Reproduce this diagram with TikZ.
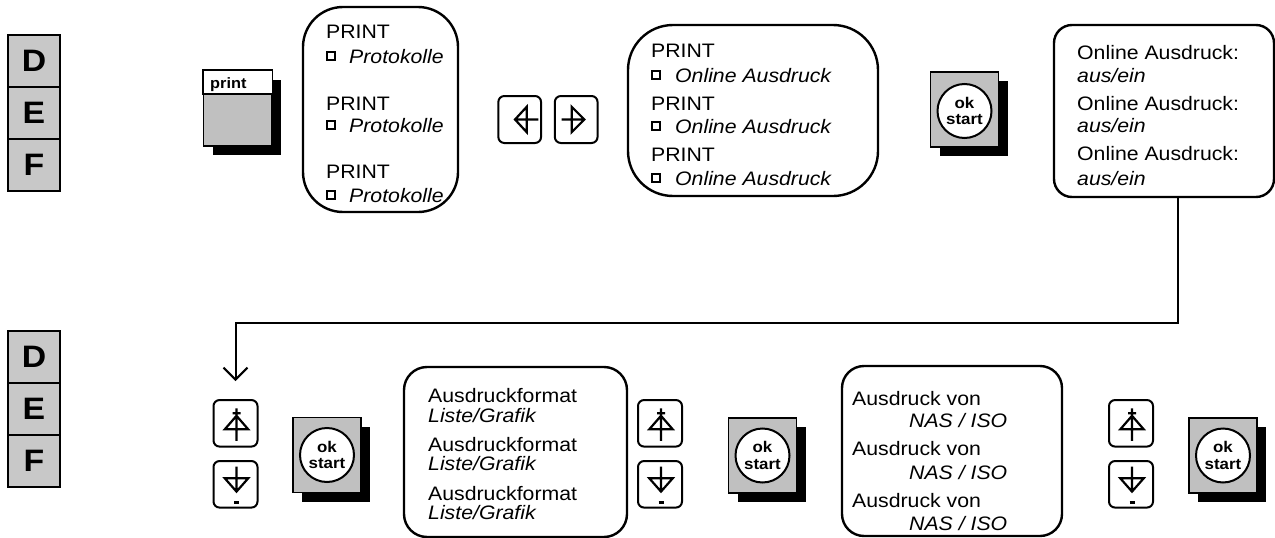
\documentclass[tikz,border=0pt]{standalone}
\usepackage{fontspec}
\setmainfont{Liberation Sans}[FakeStretch=1.09]
\usetikzlibrary{arrows.meta,shadows}

\definecolor{keygray}{RGB}{192,192,192}
\definecolor{langgray}{RGB}{200,200,200}

\tikzset{
  txt/.style={anchor=base west, inner sep=0pt, font=\fontsize{19.5}{23}\selectfont},
  itxt/.style={txt, font=\itshape\fontsize{19.5}{23}\selectfont},
  panel/.style={draw, line width=2.4pt, inner sep=0pt},
  keybox/.style={draw, line width=2pt, rounded corners=6pt, minimum width=44pt,
    minimum height=46.5pt, inner sep=0pt},
  okbase/.style={draw, line width=1.6pt, fill=keygray, minimum width=68pt,
    minimum height=75pt, inner sep=0pt,
    drop shadow={shadow xshift=9pt, shadow yshift=-9pt, fill=black, opacity=1}},
  okdisc/.style={circle, draw, line width=2pt, fill=white, minimum size=54pt,
    inner sep=0pt, align=center, font=\bfseries\fontsize{15.5}{16.5}\selectfont},
  lang/.style={draw, line width=1.6pt, fill=langgray, minimum width=52pt,
    minimum height=52pt, inner sep=0pt, font=\bfseries\fontsize{31}{33}\selectfont},
  glyph/.style={line width=2.2pt},
  conn/.style={line width=2pt},
  bullet/.style={draw, line width=2.4pt, minimum size=8pt, inner sep=0pt},
  % key symbols
  upglyph/.pic={\draw[glyph] (1,-15)--(1,17.5) (-3,-10)--(5,-10)
    (1,-7.5)--(12.7,6)--(-10.7,6)--cycle;},
  downglyph/.pic={\draw[glyph] (1,-17.7)--(1,7.3)
    (-10.7,-6)--(12.7,-6)--(1,7.3)--cycle;
    \draw[line width=2.4pt] (-1.5,18)--(3.5,18);},
  leftglyph/.pic={\draw[glyph] (-4.7,0)--(7,-12.7)--(7,12.7)--cycle (-4.7,0)--(18.6,0);},
  rightglyph/.pic={\draw[glyph] (8.1,0)--(-4.5,-12.7)--(-4.5,12.7)--cycle (-14.5,0)--(8.1,0);}
}

\begin{document}
\begin{tikzpicture}[x=1pt,y=-1pt]
\useasboundingbox (0,0) rectangle (1275,538);

% language selectors
\node[lang] (d1) at (34,61) {D};
\node[lang] (e1) at (34,113) {E};
\node[lang] (f1) at (34,165) {F};
\node[lang] (d2) at (34,357) {D};
\node[lang] (e2) at (34,409) {E};
\node[lang] (f2) at (34,461) {F};

% print key
\node[okbase] (prkey) at (237.5,108.5) {};
\draw[line width=1.6pt, fill=white] (prkey.north west) rectangle ([yshift=-24pt]prkey.north east);
\node[anchor=base west, inner sep=0pt, font=\bfseries\fontsize{15}{16}\selectfont] (prlabel) at (210,88) {print};

% first display
\node[panel, minimum width=155pt, minimum height=205pt, rounded corners=40pt] (prot) at (380.5,109.5) {};
\node[txt] (p1) at (326,38) {PRINT};
\node[bullet] (b1) at (331,56) {};
\node[itxt] (q1) at (349,63) {Protokolle};
\node[txt] (p2) at (326,110) {PRINT};
\node[bullet] (b2) at (331,125) {};
\node[itxt] (q2) at (349,132) {Protokolle};
\node[txt] (p3) at (326,178) {PRINT};
\node[bullet] (b3) at (331,195) {};
\node[itxt] (q3) at (349,202) {Protokolle};

% left / right keys
\node[keybox, minimum width=42.7pt, minimum height=47pt] (left) at (519.7,119.5) {};
\pic at (left.center) {leftglyph};
\node[keybox, minimum width=42.7pt, minimum height=47pt] (right) at (576.2,119.5) {};
\pic at (right.center) {rightglyph};

% second display
\node[panel, minimum width=250pt, minimum height=171pt, rounded corners=45pt] (onl1) at (753,110.5) {};
\node[txt] (r1) at (651,57) {PRINT};
\node[bullet] (c1) at (656,75) {};
\node[itxt] (s1) at (675,82) {Online Ausdruck};
\node[txt] (r2) at (651,110) {PRINT};
\node[bullet] (c2) at (656,126) {};
\node[itxt] (s2) at (675,133) {Online Ausdruck};
\node[txt] (r3) at (651,161) {PRINT};
\node[bullet] (c3) at (656,178) {};
\node[itxt] (s3) at (675,185) {Online Ausdruck};

% ok key, top row
\node[okbase] (ok1) at (964.5,109.5) {};
\node[okdisc] (okd1) at (964.5,111) {ok\\start};

% third display
\node[panel, minimum width=220pt, minimum height=172pt, rounded corners=18pt] (onl2) at (1164,111) {};
\node[txt] (t1) at (1077,59) {Online Ausdruck:};
\node[itxt] (u1) at (1077,82) {aus/ein};
\node[txt] (t2) at (1077,110) {Online Ausdruck:};
\node[itxt] (u2) at (1077,132) {aus/ein};
\node[txt] (t3) at (1077,160) {Online Ausdruck:};
\node[itxt] (u3) at (1077,185) {aus/ein};

% bottom row: first up/down pair and ok key
\node[keybox] (up1) at (235.5,423.3) {};
\pic at (up1.center) {upglyph};
\node[keybox] (dn1) at (235.5,484.3) {};
\pic at (dn1.center) {downglyph};
\node[okbase] (ok2) at (327,455) {};
\node[okdisc] (okd2) at (327,455) {ok\\start};

% format display
\node[panel, minimum width=223pt, minimum height=170pt, rounded corners=23pt] (fmt) at (515.5,452) {};
\node[txt] (g1) at (428,402.7) {Ausdruckformat};
\node[itxt] (h1) at (428,422.7) {Liste/Grafik};
\node[txt] (g2) at (428,451.7) {Ausdruckformat};
\node[itxt] (h2) at (428,470.7) {Liste/Grafik};
\node[txt] (g3) at (428,500) {Ausdruckformat};
\node[itxt] (h3) at (428,519.3) {Liste/Grafik};

% second up/down pair and ok key
\node[keybox] (up2) at (660,423.3) {};
\pic at (up2.center) {upglyph};
\node[keybox] (dn2) at (660,484.3) {};
\pic at (dn2.center) {downglyph};
\node[okbase] (ok3) at (762.5,455.5) {};
\node[okdisc] (okd3) at (762.5,455.5) {ok\\start};

% source display
\node[panel, minimum width=220pt, minimum height=170pt, rounded corners=22pt] (nas) at (952,451) {};
\node[txt] (m1) at (852,405) {Ausdruck von};
\node[itxt] (n1) at (909,427.3) {NAS / ISO};
\node[txt] (m2) at (852,455) {Ausdruck von};
\node[itxt] (n2) at (909,479) {NAS / ISO};
\node[txt] (m3) at (852,507) {Ausdruck von};
\node[itxt] (n3) at (909,530) {NAS / ISO};

% third up/down pair and ok key
\node[keybox] (up3) at (1131,423.3) {};
\pic at (up3.center) {upglyph};
\node[keybox] (dn3) at (1131,484.3) {};
\pic at (dn3.center) {downglyph};
\node[okbase] (ok4) at (1223,455.5) {};
\node[okdisc] (okd4) at (1223,455.5) {ok\\start};

% link from the top row to the bottom row
\coordinate (drop) at ([yshift=18pt]up1.north);
\draw[conn, -{Straight Barb[length=12pt,width=24pt]}]
  ([xshift=14pt]onl2.south) -- ++(0,125) -| (drop);
\end{tikzpicture}
\end{document}
